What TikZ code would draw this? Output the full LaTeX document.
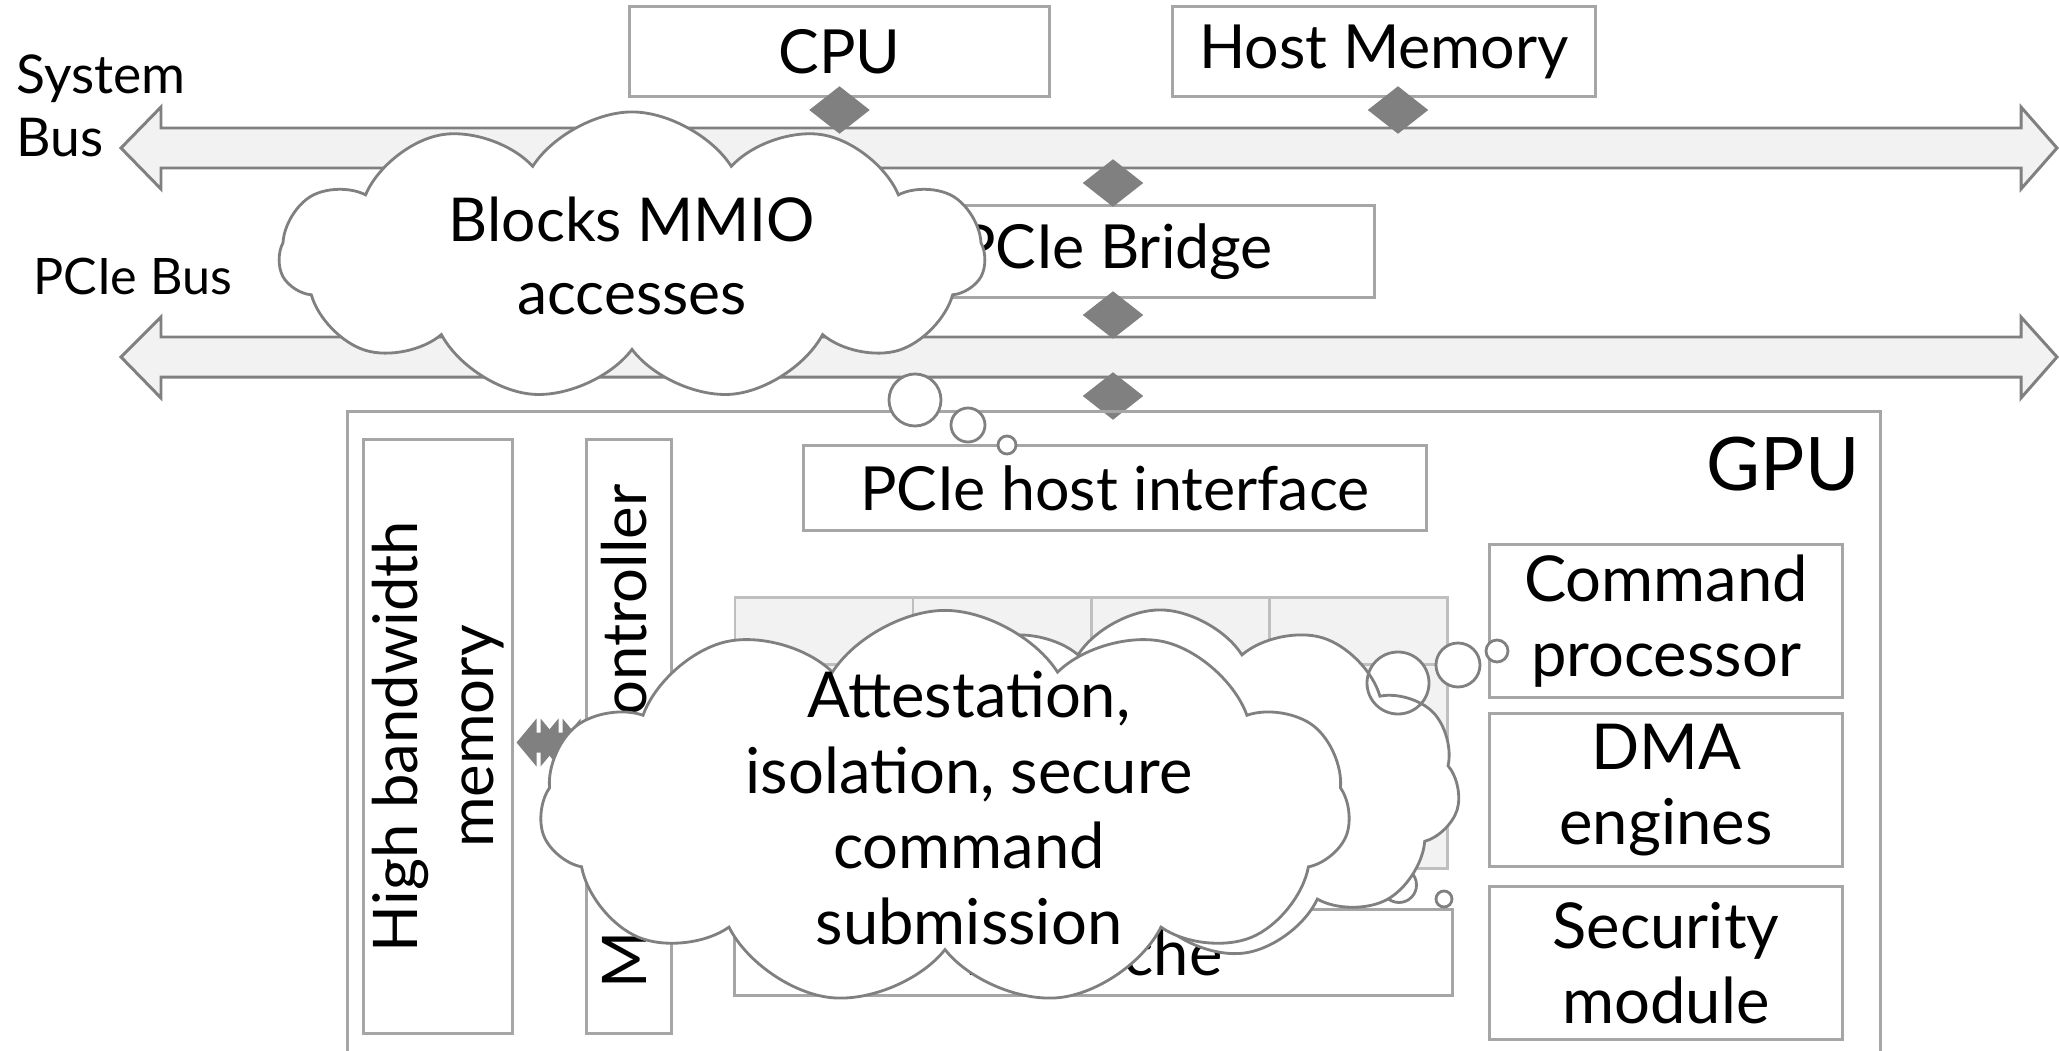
\documentclass[tikz,border=0pt]{standalone}
\usepackage{fontspec}
\setmainfont{Lato}
\usetikzlibrary{shapes.geometric,shapes.symbols}

\definecolor{boxgray}{HTML}{A6A6A6}
\definecolor{linegray}{HTML}{808080}
\definecolor{fillgray}{HTML}{F2F2F2}
\definecolor{gridgray}{HTML}{BFBFBF}

\tikzset{
	block/.style={draw=boxgray, line width=0.85pt, fill=white, inner sep=0pt,
		align=center, font=\fontsize{17.3}{20}\selectfont},
	unit/.style={block, minimum width=3.52cm, minimum height=1.52cm,
		font=\fontsize{18}{21.5}\selectfont},
	link/.style={diamond, fill=linegray, inner sep=0pt,
		minimum width=0.61cm, minimum height=0.48cm},
	bus/.style={draw=linegray, fill=fillgray, line width=0.85pt},
	cell/.style={draw=gridgray, fill=fillgray, line width=0.85pt},
	puffy/.style={cloud, draw=linegray, fill=white, line width=0.8pt, cloud ignores aspect,
		cloud puffs=11, cloud puff arc=115, inner sep=0pt, align=center,
		font=\fontsize{18}{21.5}\selectfont},
	bubble/.style={draw=linegray, line width=0.8pt},
	buslabel/.style={anchor=west, align=left, inner sep=0pt,
		font=\fontsize{15.2}{18}\selectfont},
}

\begin{document}
\begin{tikzpicture}[x=0.01cm, y=-0.01cm]
	\useasboundingbox (0,0) rectangle (2059,1051);
	\clip (0,0) rectangle (2059,1051);

	% buses
	\draw[bus] (121,148) -- (161,107) -- (161,128) -- (2021,128) -- (2021,107)
		-- (2057,148) -- (2021,189) -- (2021,168) -- (161,168) -- (161,189) -- cycle;
	\draw[bus] (121,357) -- (161,317) -- (161,337) -- (2021,337) -- (2021,317)
		-- (2057,357) -- (2021,398) -- (2021,377) -- (161,377) -- (161,398) -- cycle;
	\node[buslabel] (syslabel) at (16,106) {System\\Bus};
	\node[buslabel, font=\fontsize{14.3}{17}\selectfont] (pcielabel) at (33,276) {PCIe Bus};

	% host side
	\node[block, minimum width=4.19cm, minimum height=0.89cm] (cpu) at (839.5,51.5) {CPU};
	\node[block, minimum width=4.22cm, minimum height=0.89cm] (hostmem) at (1384,51.5) {Host Memory};
	\node[block, minimum width=5.16cm, minimum height=0.91cm] (bridge) at (1116,251.5) {PCIe Bridge};
	\node[link] (cpulink) at (839.5,110) {};
	\node[link] (memlink) at (1398,110) {};
	\node[link] (bridgeup) at (1113,183) {};
	\node[link] (bridgedown) at (1113,315) {};
	\node[link] (gpulink) at (1113,396) {};

	% GPU
	\node[draw=boxgray, line width=0.85pt, minimum width=15.32cm, minimum height=7cm] (gpu) at (1114,762) {};
	\node[anchor=north east, inner sep=0pt, font=\fontsize{21}{25}\selectfont] (gpulabel) at (1860,436) {GPU};
	\node[block, minimum width=6.22cm, minimum height=0.84cm] (hostif) at (1115,488) {PCIe host interface};
	\node[block, rotate=90, minimum width=5.93cm, minimum height=1.48cm,
		font=\fontsize{17.5}{21.5}\selectfont] (hbm) at (438,736.5) {High bandwidth\\memory};
	\node[block, rotate=90, minimum width=5.93cm, minimum height=0.84cm,
		font=\fontsize{17.5}{21.5}\selectfont] (memctrl) at (629,736.5) {Memory controller};
	\foreach \s in {0,22,44}
		\fill[linegray] ([shift={(\s+3,6)}]hbm.south) -- ++(20,-24) -- ++(0,14) -- ++(4,0)
			-- ++(0,-14) -- ++(20,24) -- ++(-20,24) -- ++(0,-14) -- ++(-4,0) -- ++(0,14) -- cycle;
	\foreach \c in {0,...,3}
		\foreach \r in {0,...,3}
			\draw[cell] (735+\c*178,597+\r*67.75) rectangle ++(178,67.75);
	\node[block, minimum width=7.17cm, minimum height=0.85cm,
		font=\fontsize{18}{21.5}\selectfont] (cache) at (1093.5,952.5) {L2 Cache};
	\node[unit] (cmdproc) at (1666,621) {Command\\processor};
	\node[unit] (dma) at (1666,790) {DMA\\engines};
	\node[unit] (secmod) at (1666,963) {Security\\module};

	% thought bubbles
	\foreach \x/\y/\r in {1399/885/17.5, 1444/899/8}
		\draw[bubble, fill=white] (\x,\y) circle[radius=\r];
	\foreach \x/\y/\r in {1398/683/31, 1458/665/22, 1497/651/11}
		\fill[white] (\x,\y) circle[radius=\r];
	\node[puffy, minimum width=6cm, minimum height=3.5cm] (backthought) at (1160,785) {};
	\foreach \x/\y/\r in {1398/683/31, 1458/665/22, 1497/651/11}
		\draw[bubble] (\x,\y) circle[radius=\r];
	\node[puffy, minimum width=8.1cm, minimum height=3.95cm,
		label={[align=center, xshift=0.24cm, font=\fontsize{18}{21.5}\selectfont]center:{Attestation,\\isolation, secure\\command\\submission}}]
		(attest) at (945,808) {};
	\node[puffy, minimum width=7.05cm, minimum height=2.88cm,
		font=\fontsize{17.2}{20.5}\selectfont] (mmio) at (632,256) {Blocks MMIO\\accesses};
	\foreach \x/\y/\r in {915/400/26, 968/425/17, 1007/445/9}
		\draw[bubble, fill=white] (\x,\y) circle[radius=\r];
\end{tikzpicture}
\end{document}
